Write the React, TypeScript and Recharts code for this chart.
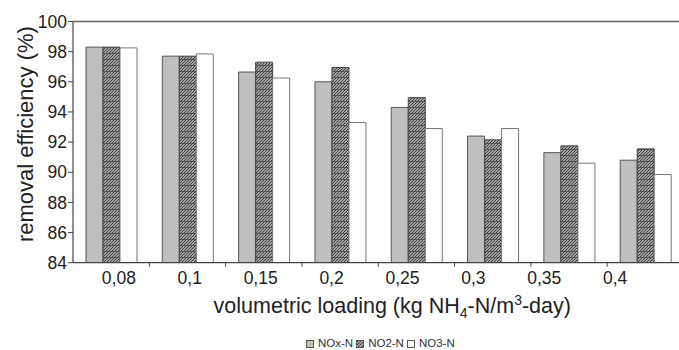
import { Bar, BarChart, Label, ReferenceLine, XAxis, YAxis } from 'recharts';

const loadings = ['0,08', '0,1', '0,15', '0,2', '0,25', '0,3', '0,35', '0,4'];
const noxN = [98.3, 97.7, 96.65, 96.0, 94.3, 92.4, 91.3, 90.8];
const no2N = [98.3, 97.7, 97.3, 96.95, 94.95, 92.15, 91.75, 91.55];
const no3N = [98.25, 97.85, 96.25, 93.3, 92.9, 92.9, 90.6, 89.85];
const yTicks = [84, 86, 88, 90, 92, 94, 96, 98, 100];
// label positions in the original drift a little left of the bar groups
const labelSlots = [0, 1, 2, 3, 4, 5, 6, 7];
const labelDomain = [-0.647, 7.964];

const data = loadings.map((loading, i) => ({
  loading,
  slot: i,
  nox: noxN[i],
  no2: no2N[i],
  no3: no3N[i],
}));

const FONT = '"Liberation Sans", Arial, sans-serif';
const W = 690;
const H = 350;

function BoundaryTick(props: any) {
  const { x, y, width } = props;
  const band = (width || 610) / loadings.length;
  const bx = x + band / 2;
  return <line x1={bx} y1={y} x2={bx} y2={y + 4} stroke="#444" strokeWidth={1} />;
}

function YTitle(props: any) {
  const vb = props.viewBox || { x: 0, y: 21, height: 241 };
  const cx = 33;
  const cy = vb.y + vb.height / 2 - 8;
  return (
    <text
      x={cx}
      y={cy}
      transform={`rotate(-90 ${cx} ${cy})`}
      textAnchor="middle"
      fontSize={22}
      fontFamily={FONT}
      fill="#222"
    >
      removal efficiency (%)
    </text>
  );
}

function XTitle(props: any) {
  const vb = props.viewBox || { x: 73, y: 267, width: 610 };
  const cx = vb.x + vb.width / 2 + 14;
  const by = vb.y + 46;
  return (
    <text x={cx} y={by} textAnchor="middle" fontSize={21.5} fontFamily={FONT} fill="#222">
      volumetric loading (kg NH
      <tspan fontSize={14} dy={5}>4</tspan>
      <tspan dy={-5}>-N/m</tspan>
      <tspan fontSize={14} dy={-8}>3</tspan>
      <tspan dy={8}>-day)</tspan>
    </text>
  );
}

function Swatch({ kind }: { kind: 'gray' | 'hatch' | 'white' }) {
  return (
    <svg width={8} height={8} style={{ marginRight: 1 }}>
      <defs>
        <pattern id="legHatch" width={3} height={3} patternUnits="userSpaceOnUse">
          <rect width={3} height={3} fill="#a8a8a8" />
          <path d="M0,3 L3,0" stroke="#3a3a3a" strokeWidth={1} />
        </pattern>
      </defs>
      <rect
        x={0.5}
        y={0.5}
        width={7}
        height={7}
        fill={kind === 'gray' ? '#bfbfbf' : kind === 'hatch' ? 'url(#legHatch)' : '#fff'}
        stroke="#555"
        strokeWidth={1}
      />
    </svg>
  );
}

export default function App() {
  return (
    <div style={{ position: 'fixed', left: 0, top: 0, width: 679, height: H, overflow: 'hidden', background: '#fff' }}>
      <BarChart
        width={W}
        height={H}
        data={data}
        margin={{ top: 21.5, right: 6.5, left: 0, bottom: 40 }}
        barCategoryGap={13}
        barGap={0}
      >
        <defs>
          <pattern id="hatch" width={6} height={6} patternUnits="userSpaceOnUse">
            <rect width={6} height={6} fill="#a6a6a6" />
            <path d="M0,3 L3,0 M0,6 L6,0 M3,6 L6,3" stroke="#3a3a3a" strokeWidth={1} />
            <line x1={0} y1={5.5} x2={6} y2={5.5} stroke="#444" strokeWidth={0.8} />
          </pattern>
        </defs>
        <XAxis
          dataKey="loading"
          height={4}
          tickSize={0}
          tickMargin={0}
          tickLine={false}
          tick={<BoundaryTick />}
          axisLine={{ stroke: '#444', strokeWidth: 1.2 }}
        />
        <XAxis
          xAxisId="lbl"
          dataKey="slot"
          type="number"
          domain={labelDomain}
          ticks={labelSlots}
          allowDataOverflow
          height={43.3}
          tickSize={0}
          tickMargin={5}
          axisLine={false}
          tickLine={false}
          tickFormatter={(v: number) => loadings[v] ?? ''}
          tick={{ fontSize: 17.5, fill: '#222', fontFamily: FONT }}
        >
          <Label content={<XTitle />} />
        </XAxis>
        <YAxis
          width={73}
          domain={[84, 100]}
          ticks={yTicks}
          allowDataOverflow
          tickSize={5}
          tickMargin={1}
          axisLine={{ stroke: '#444', strokeWidth: 1.2 }}
          tickLine={{ stroke: '#444' }}
          tick={{ fontSize: 17.5, fill: '#222', fontFamily: FONT }}
        >
          <Label content={<YTitle />} />
        </YAxis>
        <ReferenceLine y={100} stroke="#666" strokeWidth={1.5} />
        <Bar dataKey="nox" fill="#bfbfbf" stroke="#555" strokeWidth={1} isAnimationActive={false} />
        <Bar dataKey="no2" fill="url(#hatch)" stroke="#444" strokeWidth={1} isAnimationActive={false} />
        <Bar dataKey="no3" fill="#fff" stroke="#777" strokeWidth={1} isAnimationActive={false} />
      </BarChart>
      <div
        style={{
          position: 'absolute',
          left: 306,
          top: 338,
          display: 'flex',
          alignItems: 'center',
          gap: 3,
          fontFamily: FONT,
          fontSize: 11.5,
          color: '#333',
          lineHeight: '11px',
          whiteSpace: 'nowrap',
        }}
      >
        <Swatch kind="gray" />
        <span>NOx-N</span>
        <Swatch kind="hatch" />
        <span>NO2-N</span>
        <Swatch kind="white" />
        <span>NO3-N</span>
      </div>
    </div>
  );
}
